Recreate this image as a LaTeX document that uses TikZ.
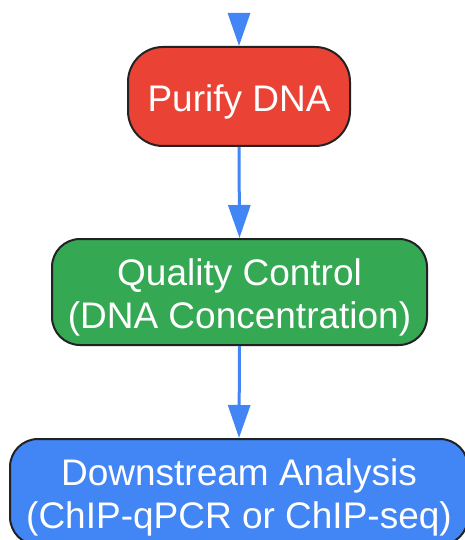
\documentclass[tikz,border=0pt]{standalone}
\usepackage{fontspec}
\setmainfont{Liberation Sans}
\usetikzlibrary{arrows.meta}
\definecolor{gred}{HTML}{EA4335}
\definecolor{ggreen}{HTML}{34A853}
\definecolor{gblue}{HTML}{4285F4}
\definecolor{edge}{HTML}{222222}
\begin{document}
\begin{tikzpicture}[
  box/.style={draw=edge, line width=2pt, rounded corners=28pt, inner sep=0pt},
  txt/.style={text=white, align=center, font=\fontsize{37}{43}\selectfont, inner sep=0pt, yshift=-5pt},
  flow/.style={draw=gblue, line width=3pt, -{Triangle[width=22pt,length=33pt]}}
]
\useasboundingbox (0,0) rectangle (465pt,-540pt);
\coordinate (top) at (239pt,-13pt);
\node[box, fill=gred, rounded corners=35pt, minimum width=222pt, minimum height=99pt] (purify) at (239pt,-96.5pt) {};
\node[txt] (purifyT) at (purify.center) {Purify DNA};
\node[box, fill=ggreen, minimum width=375pt, minimum height=106pt] (qc) at (239.5pt,-292pt) {};
\node[txt] (qcT) at (qc.center) {Quality Control\\(DNA Concentration)};
\node[box, fill=gblue, minimum width=458pt, minimum height=106pt] (down) at (239pt,-492pt) {};
\node[txt] (downT) at (down.center) {Downstream Analysis\\(ChIP-qPCR or ChIP-seq)};
\draw[flow] (top) -- (purify.north);
\draw[flow] (purify.south) -- (qc.north);
\draw[flow] (qc.south) -- (down.north);
\end{tikzpicture}
\end{document}
